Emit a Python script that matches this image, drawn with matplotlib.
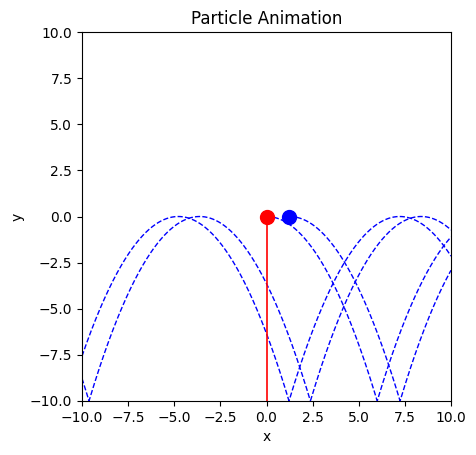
import numpy as np
import matplotlib
matplotlib.use("Agg")
import matplotlib.pyplot as plt

# Particle positions (current frame)
particle_x = [0.0, 1.24]
particle_y = [0.0, 0.0]
particle_colors = ["red", "blue"]

# Blue dashed trails: bouncing parabolic arcs
arc_half_width = 6.0      # horizontal distance from a peak to a bounce
arc_depth = 10.0          # drop from a peak (y=0) to the floor (y=-10)
trail_peak_x = [-4.78, -3.62, 0.0, 1.24]   # x of one peak of each trail
trail_start_x = [-10.0, -10.0, 0.0, 1.24]
trail_end_x = [10.0, 10.0, 10.0, 10.0]

# Red trail: vertical line at x = 0 from y = 0 down to the floor
red_trail_x = [0.0, 0.0]
red_trail_y = [0.0, -10.0]

fig = plt.figure(figsize=(4.76, 4.55), dpi=100)
ax = fig.add_axes([82 / 476, (455 - 401) / 455, 369 / 476, 369 / 455])

h = arc_half_width
for p, xs, xe in zip(trail_peak_x, trail_start_x, trail_end_x):
    x = np.linspace(xs, xe, 800)
    d = np.mod(x - p + h, 2 * h) - h
    y = -arc_depth * (d / h) ** 2
    ax.plot(x, y, color="blue", linestyle="--", linewidth=1)

ax.plot(red_trail_x, red_trail_y, color="red", linewidth=1.2)

for px, py, c in zip(particle_x, particle_y, particle_colors):
    ax.plot([px], [py], marker="o", color=c, markersize=10, linestyle="none")

ax.set_xlim(-10, 10)
ax.set_ylim(-10, 10)
ax.set_xticks(np.arange(-10, 10.01, 2.5))
ax.set_yticks(np.arange(-10, 10.01, 2.5))
ax.set_title("Particle Animation")
ax.set_xlabel("x")
ax.set_ylabel("y")

fig.savefig("out.png", dpi=100)
